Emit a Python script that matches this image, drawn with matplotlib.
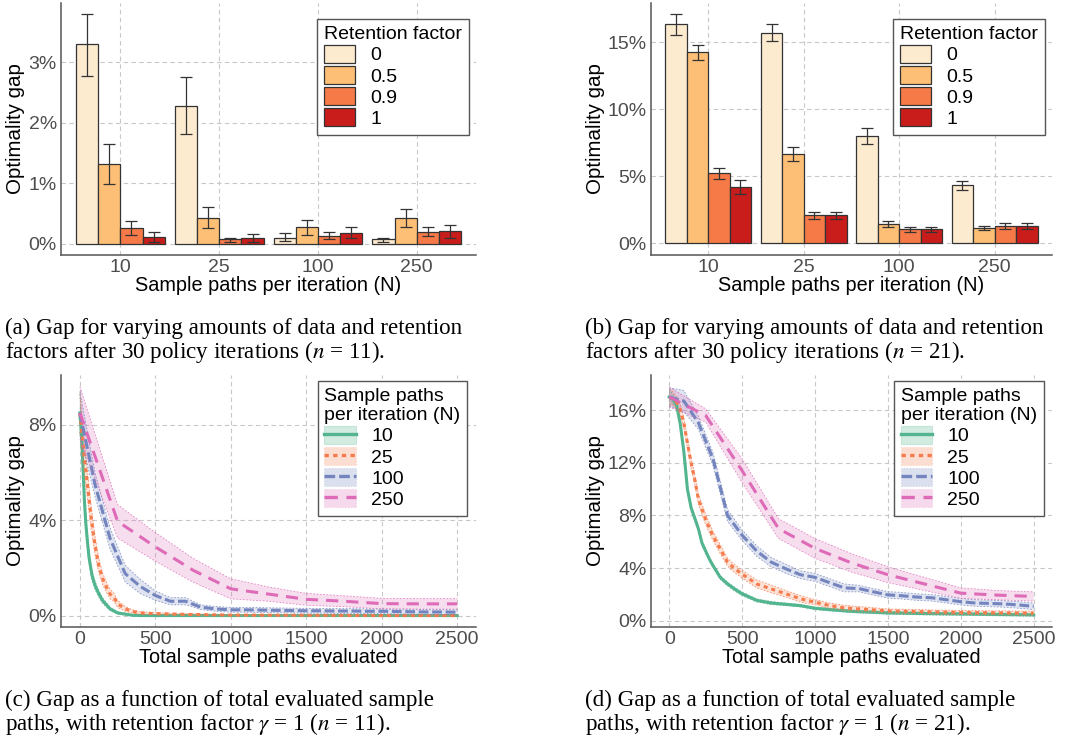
import matplotlib
matplotlib.use('Agg')
import matplotlib.pyplot as plt
import numpy as np
from matplotlib.patches import Patch
from matplotlib.lines import Line2D

plt.rcParams['font.family'] = ['Liberation Sans', 'DejaVu Sans']
plt.rcParams['mathtext.fontset'] = 'stix'

# ---- data: bar panels (values in %) ----
n_labels = ['10', '25', '100', '250']
retention = ['0', '0.5', '0.9', '1']
bar_colors = ['#FDEBD0', '#FDBF76', '#F67A48', '#C81D1B']

# (a) n = 11
a_mean = [[3.30, 2.28, 0.10, 0.07],
          [1.31, 0.43, 0.27, 0.43],
          [0.25, 0.07, 0.13, 0.19],
          [0.11, 0.09, 0.18, 0.20]]
a_lo = [[2.77, 1.81, 0.04, 0.03],
        [0.98, 0.25, 0.14, 0.28],
        [0.14, 0.03, 0.07, 0.13],
        [0.03, 0.03, 0.10, 0.09]]
a_hi = [[3.80, 2.75, 0.17, 0.09],
        [1.65, 0.60, 0.39, 0.57],
        [0.37, 0.09, 0.19, 0.28],
        [0.19, 0.15, 0.27, 0.31]]

# (b) n = 21
b_mean = [[16.37, 15.72, 8.00, 4.34],
          [14.25, 6.68, 1.45, 1.15],
          [5.23, 2.09, 1.05, 1.30],
          [4.19, 2.09, 1.05, 1.30]]
b_lo = [[15.57, 15.10, 7.40, 3.96],
        [13.68, 6.18, 1.25, 0.97],
        [4.78, 1.84, 0.87, 1.10],
        [3.69, 1.84, 0.87, 1.10]]
b_hi = [[17.14, 16.37, 8.60, 4.68],
        [14.83, 7.20, 1.64, 1.32],
        [5.66, 2.32, 1.25, 1.50],
        [4.71, 2.32, 1.22, 1.50]]

# ---- data: line panels (x = total sample paths, y = gap %, w = ribbon half width) ----
# (c) n = 11
c_x10 = [0, 10, 20, 30, 40, 50, 60, 80, 100, 120, 150, 170, 200, 250, 300, 350, 400, 600, 1000, 1500, 2000, 2500]
c_y10 = [8.5, 7.6, 6.3, 4.8, 3.8, 3.1, 2.46, 1.69, 1.27, 0.98, 0.63, 0.49, 0.28, 0.11, 0.06, 0.01, 0, 0, 0, 0, 0, 0]
c_w10 = [0.8, 0.6, 0.5, 0.4, 0.35, 0.3, 0.25, 0.2, 0.18, 0.15, 0.12, 0.1, 0.08, 0.05, 0.04, 0.03, 0.02, 0.02, 0.01, 0.01, 0.01, 0.01]
c_x25 = [0, 25, 50, 75, 100, 125, 150, 175, 200, 225, 250, 300, 350, 400, 500, 700, 1000, 1500, 2000, 2500]
c_y25 = [8.5, 6.9, 5.5, 4.1, 2.95, 2.1, 1.55, 1.2, 0.9, 0.77, 0.49, 0.28, 0.17, 0.11, 0.08, 0.05, 0.02, 0.01, 0, 0]
c_w25 = [0.8, 0.7, 0.6, 0.5, 0.4, 0.3, 0.25, 0.22, 0.2, 0.18, 0.15, 0.1, 0.07, 0.05, 0.04, 0.03, 0.02, 0.02, 0.02, 0.02]
c_x100 = list(range(0, 2501, 100))
c_y100 = [8.5, 5.5, 3.23, 1.76, 1.22, 0.84, 0.6, 0.6, 0.35, 0.28, 0.24, 0.24, 0.23, 0.22, 0.21, 0.2,
          0.2, 0.19, 0.19, 0.18, 0.18, 0.17, 0.16, 0.15, 0.15, 0.14]
c_w100 = [0.9, 0.5, 0.45, 0.35, 0.3, 0.2, 0.15, 0.15, 0.1, 0.1, 0.1, 0.1, 0.1, 0.1, 0.1, 0.1,
          0.1, 0.1, 0.1, 0.1, 0.1, 0.1, 0.1, 0.1, 0.1, 0.1]
c_x250 = list(range(0, 2501, 250))
c_y250 = [8.5, 3.95, 2.88, 1.9, 1.12, 0.9, 0.68, 0.6, 0.5, 0.49, 0.49]
c_w250 = [1.1, 0.7, 0.6, 0.5, 0.42, 0.3, 0.25, 0.23, 0.22, 0.22, 0.22]

# (d) n = 21
d_x10 = [0, 25, 50, 75, 100, 125, 150, 175, 200, 225, 250, 275, 300, 350, 400, 450, 500, 600, 700,
         800, 900, 1000, 1100, 1250, 1500, 1750, 2000, 2250, 2500]
d_y10 = [17.0, 16.8, 16.4, 15.0, 12.9, 10.0, 8.6, 7.8, 7.0, 5.9, 5.3, 4.7, 4.2, 3.3, 2.8, 2.4, 2.05, 1.55, 1.35,
         1.25, 1.15, 0.95, 0.85, 0.72, 0.6, 0.55, 0.52, 0.48, 0.45]
d_w10 = [0.6, 0.4, 0.3, 0.25, 0.25, 0.2, 0.2, 0.2, 0.2, 0.2, 0.2, 0.15, 0.15, 0.15, 0.15, 0.15, 0.15, 0.12, 0.12,
         0.1, 0.1, 0.1, 0.1, 0.1, 0.1, 0.1, 0.1, 0.1, 0.1]
d_x25 = [0, 25, 50, 75, 100, 125, 150, 175, 200, 250, 300, 350, 400, 450, 500, 600, 700, 800, 900, 1000,
         1100, 1200, 1500, 2000, 2500]
d_y25 = [17.0, 16.9, 16.6, 16.05, 15.05, 13.5, 12.0, 10.75, 9.25, 7.7, 6.45, 5.45, 4.45, 3.95, 3.55, 2.8, 2.42,
         2.05, 1.67, 1.41, 1.16, 0.98, 0.75, 0.63, 0.58]
d_w25 = [0.6, 0.5, 0.45, 0.4, 0.4, 0.4, 0.4, 0.4, 0.4, 0.4, 0.35, 0.35, 0.3, 0.3, 0.3, 0.3, 0.3,
         0.25, 0.25, 0.2, 0.2, 0.2, 0.15, 0.15, 0.15]
d_x100 = list(range(0, 2501, 100))
d_y100 = [17.0, 16.7, 15.05, 12.3, 8.0, 6.5, 5.3, 4.45, 3.95, 3.5, 3.3, 2.9, 2.5, 2.45, 2.2, 1.97,
          1.9, 1.8, 1.75, 1.6, 1.45, 1.35, 1.32, 1.28, 1.2, 1.1]
d_w100 = [0.7, 0.8, 0.5, 0.5, 0.45, 0.4, 0.4, 0.35, 0.35, 0.3, 0.3, 0.3, 0.3, 0.25, 0.25, 0.25,
          0.25, 0.25, 0.25, 0.25, 0.25, 0.25, 0.25, 0.25, 0.25, 0.25]
d_x250 = list(range(0, 2501, 250))
d_y250 = [17.0, 15.6, 11.4, 7.0, 5.5, 4.4, 3.5, 2.8, 2.1, 1.95, 1.85]
d_w250 = [0.75, 0.5, 0.9, 0.75, 0.75, 0.7, 0.6, 0.5, 0.4, 0.35, 0.35]

line_labels = ['10', '25', '100', '250']
line_colors = ['#52B58F', '#F67B4C', '#7384BE', '#DE6BB7']
line_dashes = [None, (1.3, 1.3), (3.2, 1.2), (4.0, 2.6)]

TICK_COLOR = '#4D4D4D'
GRID = dict(color='#C8C8C8', linestyle=(0, (4, 3)), linewidth=0.8)


def style_axes(ax):
    for s in ['top', 'right']:
        ax.spines[s].set_visible(False)
    for s in ['left', 'bottom']:
        ax.spines[s].set_color('#555555')
        ax.spines[s].set_linewidth(1.1)
    ax.tick_params(length=0, labelsize=14, labelcolor=TICK_COLOR, pad=3)
    ax.grid(True, **GRID)
    ax.set_axisbelow(True)


def bar_panel(ax, mean, lo, hi, yticks, ylim, lab_x):
    x = np.arange(len(n_labels))
    w = 0.225
    for i in range(len(retention)):
        m = np.array(mean[i])
        err = [m - np.array(lo[i]), np.array(hi[i]) - m]
        ax.bar(x + (i - 1.5) * w, m, w, color=bar_colors[i], edgecolor='#333333', linewidth=0.9,
               yerr=err, capsize=4.5, error_kw=dict(ecolor='#333333', elinewidth=0.9, capthick=0.9))
    ax.set_xticks(x)
    ax.set_xticklabels(n_labels)
    ax.set_xlim(-0.6, 3.6)
    ax.set_ylim(*ylim)
    ax.set_yticks(yticks)
    ax.set_yticklabels([f'{t:g}%' for t in yticks])
    style_axes(ax)
    ax.set_xlabel('Sample paths per iteration (N)', fontsize=14.3)
    ax.set_ylabel('Optimality gap', fontsize=14.8)
    ax.xaxis.set_label_coords(0.5, -0.085)
    ax.yaxis.set_label_coords(lab_x, 0.5)
    handles = [Patch(facecolor=c, edgecolor='#333333', linewidth=0.9) for c in bar_colors]
    leg = ax.legend(handles, retention, title='Retention factor', loc='upper right',
                    bbox_to_anchor=(0.982, 0.935), borderaxespad=0, fontsize=14, title_fontsize=14,
                    handlelength=1.6, handleheight=1.05, labelspacing=0.08, handletextpad=0.8,
                    fancybox=False, framealpha=1, edgecolor='#555555', alignment='left',
                    borderpad=0.35)
    leg.get_frame().set_linewidth(1.0)


def line_panel(ax, series, yticks, ylim, lab_x):
    for (xs, ys, ws), c, d in zip(series, line_colors, line_dashes):
        xs = np.array(xs, float)
        ys = np.array(ys, float)
        ws = np.array(ws, float)
        ax.fill_between(xs, ys - ws, ys + ws, facecolor=c, alpha=0.22, linewidth=0)
        for edge in (ys - ws, ys + ws):
            ln, = ax.plot(xs, edge, color=c, linewidth=0.6, alpha=0.8)
            ln.set_dashes((2, 2))
        ln, = ax.plot(xs, ys, color=c, linewidth=2.2)
        if d is not None:
            ln.set_dashes(d)
    ax.set_xlim(-125, 2625)
    ax.set_xticks([0, 500, 1000, 1500, 2000, 2500])
    ax.set_ylim(*ylim)
    ax.set_yticks(yticks)
    ax.set_yticklabels([f'{t:g}%' for t in yticks])
    style_axes(ax)
    ax.set_xlabel('Total sample paths evaluated', fontsize=14.3)
    ax.set_ylabel('Optimality gap', fontsize=14.8)
    ax.xaxis.set_label_coords(0.5, -0.085)
    ax.yaxis.set_label_coords(lab_x, 0.5)
    handles = []
    for c, d in zip(line_colors, line_dashes):
        p = Patch(facecolor=c, alpha=0.25, edgecolor=c, linewidth=0.8, linestyle=':' if d else '-')
        l = Line2D([], [], color=c, linewidth=2.4)
        if d is not None:
            l.set_dashes(d)
        handles.append((p, l))
    leg = ax.legend(handles, line_labels, title='Sample paths\nper iteration (N)', loc='upper right',
                    bbox_to_anchor=(0.979, 0.977), borderaxespad=0, fontsize=14, title_fontsize=14,
                    handlelength=1.6, handleheight=1.05, labelspacing=0.08, handletextpad=0.8,
                    fancybox=False, framealpha=1, edgecolor='#555555', alignment='left',
                    borderpad=0.35)
    leg.get_frame().set_linewidth(1.0)


fig = plt.figure(figsize=(10.67, 7.42), dpi=100)
ax_a = fig.add_axes([0.0572, 0.6563, 0.389, 0.3396])
ax_b = fig.add_axes([0.6101, 0.6563, 0.3758, 0.3396])
ax_c = fig.add_axes([0.0572, 0.155, 0.389, 0.3396])
ax_d = fig.add_axes([0.6101, 0.155, 0.3758, 0.3396])

bar_panel(ax_a, a_mean, a_lo, a_hi, [0, 1, 2, 3], (-0.19, 3.98), -0.087)
bar_panel(ax_b, b_mean, b_lo, b_hi, [0, 5, 10, 15], (-0.87, 17.94), -0.115)
line_panel(ax_c, [(c_x10, c_y10, c_w10), (c_x25, c_y25, c_w25),
                  (c_x100, c_y100, c_w100), (c_x250, c_y250, c_w250)], [0, 4, 8], (-0.48, 10.09), -0.087)
line_panel(ax_d, [(d_x10, d_y10, d_w10), (d_x25, d_y25, d_w25),
                  (d_x100, d_y100, d_w100), (d_x250, d_y250, d_w250)], [0, 4, 8, 12, 16], (-0.47, 18.67), -0.115)

cap = dict(family=['Liberation Serif', 'DejaVu Serif'], fontsize=16.6, va='center', ha='left')
fig.text(5 / 1067, 1 - 328 / 742, '(a) Gap for varying amounts of data and retention', **cap)
fig.text(5 / 1067, 1 - 352 / 742, r'factors after 30 policy iterations ($n$ = 11).', **cap)
fig.text(585 / 1067, 1 - 328 / 742, '(b) Gap for varying amounts of data and retention', **cap)
fig.text(585 / 1067, 1 - 352 / 742, r'factors after 30 policy iterations ($n$ = 21).', **cap)
fig.text(5 / 1067, 1 - 700 / 742, '(c) Gap as a function of total evaluated sample', **cap)
fig.text(5 / 1067, 1 - 724 / 742, r'paths, with retention factor $\gamma$ = 1 ($n$ = 11).', **cap)
fig.text(585 / 1067, 1 - 700 / 742, '(d) Gap as a function of total evaluated sample', **cap)
fig.text(585 / 1067, 1 - 724 / 742, r'paths, with retention factor $\gamma$ = 1 ($n$ = 21).', **cap)

fig.savefig('out.png', dpi=100)
